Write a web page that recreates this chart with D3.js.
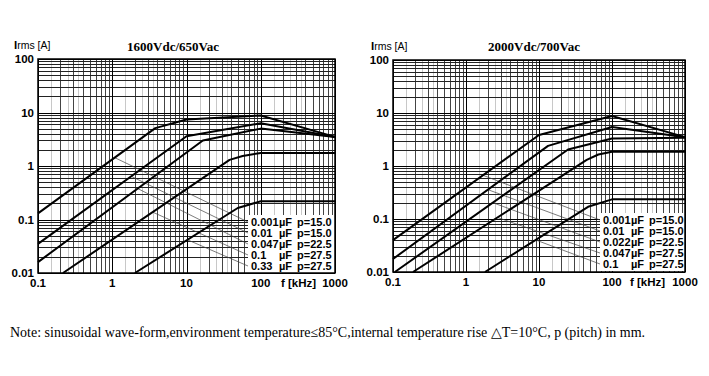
<!DOCTYPE html>
<html>
<head>
<meta charset="utf-8">
<script src="https://cdn.jsdelivr.net/npm/d3@7"></script>
<style>
  body { margin: 0; background: #fff; }
  svg { display: block; }
</style>
</head>
<body>
<div id="chart"></div>
<script>
// shared axis ticks
const freqTicks = [0.1, 1, 10, 100, 1000];
const freqTickLabels = ["0.1", "1", "10", "100", "1000"];
const currentTicks = [0.01, 0.1, 1, 10, 100];
const currentTickLabels = ["0.01", "0.1", "1", "10", "100"];

// left panel: 1600Vdc/650Vac  (points are [f kHz, Irms A])
const leftTitle = "1600Vdc/650Vac";
const leftCaps = ["0.001", "0.01", "0.047", "0.1", "0.33"];
const leftPitch = ["15.0", "15.0", "22.5", "27.5", "27.5"];
const leftCurve1 = [[0.1, 0.13], [3.8, 5.1], [10, 7.4], [100, 8.8], [1000, 3.5]];
const leftCurve2 = [[0.1, 0.035], [10, 3.6], [100, 6.3], [1000, 3.5]];
const leftCurve3 = [[0.1, 0.016], [16.6, 3.0], [100, 5.0], [1000, 3.5]];
const leftCurve4 = [[0.217, 0.01], [38, 1.3], [57, 1.54], [100, 1.75], [1000, 1.75]];
const leftCurve5 = [[2.02, 0.01], [49, 0.164], [100, 0.22], [1000, 0.22]];
const leftLeaderFrom = [1.08, 1.8, 2.2, 3.5, 10.3];

// right panel: 2000Vdc/700Vac
const rightTitle = "2000Vdc/700Vac";
const rightCaps = ["0.001", "0.01", "0.022", "0.047", "0.1"];
const rightPitch = ["15.0", "15.0", "22.5", "27.5", "27.5"];
const rightCurve1 = [[0.1, 0.04], [10, 3.85], [100, 8.8], [1000, 3.5]];
const rightCurve2 = [[0.1, 0.0176], [13.3, 2.4], [100, 5.45], [1000, 3.5]];
const rightCurve3 = [[0.106, 0.01], [25, 2.05], [100, 3.3], [1000, 3.4]];
const rightCurve4 = [[0.188, 0.01], [45, 1.3], [65, 1.65], [100, 1.85], [1000, 1.85]];
const rightCurve5 = [[1.82, 0.01], [47, 0.17], [100, 0.235], [1000, 0.235]];
const rightLeaderFrom = [1.71, 2.0, 2.33, 2.7, 9.0];

const note = "Note: sinusoidal wave-form,environment temperature\u226485\u00b0C,internal temperature rise \u25b3T=10\u00b0C, p (pitch) in mm.";

const width = 709, height = 376;
const sans = "'Liberation Sans', Arial, sans-serif";
const serif = "'Liberation Serif', 'Times New Roman', serif";

const svg = d3.select('#chart').append('svg')
    .attr('width', width)
    .attr('height', height);

// value on a polyline in log-log space
function logInterp(curve, f) {
    for (let i = 1; i < curve.length; i++) {
        const a = curve[i - 1], b = curve[i];
        if (f >= a[0] && f <= b[0]) {
            const t = (Math.log10(f) - Math.log10(a[0])) / (Math.log10(b[0]) - Math.log10(a[0]));
            return Math.pow(10, Math.log10(a[1]) + t * (Math.log10(b[1]) - Math.log10(a[1])));
        }
    }
    return curve[curve.length - 1][1];
}

function drawPanel(p) {
    const x = d3.scaleLog().domain([0.1, 1000]).range([p.x0, p.x1]);
    const y = d3.scaleLog().domain([0.01, 100]).range([p.y1, p.y0]);
    const g = svg.append('g');
    const px = v => Math.round(v) + 0.5;

    // grid values per decade
    const minor = [], half = [];
    for (let e = -2; e < 3; e++) {
        for (let n = 2; n <= 9; n++) minor.push(n * Math.pow(10, e));
        [1.5, 2.5, 3.5].forEach(n => half.push(n * Math.pow(10, e)));
    }
    const xMinor = minor.filter(v => v > 0.1 && v < 1000);
    const xHalf = half.filter(v => v > 0.1 && v < 1000);
    const yMinor = minor.filter(v => v > 0.01 && v < 100);

    const grid = g.append('g').attr('shape-rendering', 'crispEdges');
    grid.selectAll('line.vh').data(xHalf).enter().append('line')
        .attr('x1', d => px(x(d))).attr('x2', d => px(x(d)))
        .attr('y1', p.y0).attr('y2', p.y1)
        .attr('stroke', '#c8c8c8');
    grid.selectAll('line.vm').data(xMinor).enter().append('line')
        .attr('x1', d => px(x(d))).attr('x2', d => px(x(d)))
        .attr('y1', p.y0).attr('y2', p.y1)
        .attr('stroke', '#444');
    grid.selectAll('line.hm').data(yMinor).enter().append('line')
        .attr('y1', d => px(y(d))).attr('y2', d => px(y(d)))
        .attr('x1', p.x0).attr('x2', p.x1)
        .attr('stroke', '#222');
    grid.selectAll('line.vM').data(freqTicks).enter().append('line')
        .attr('x1', d => px(x(d))).attr('x2', d => px(x(d)))
        .attr('y1', p.y0).attr('y2', p.y1)
        .attr('stroke', '#000').attr('stroke-width', 1.5);
    grid.selectAll('line.hM').data(currentTicks).enter().append('line')
        .attr('y1', d => px(y(d))).attr('y2', d => px(y(d)))
        .attr('x1', p.x0).attr('x2', p.x1)
        .attr('stroke', '#000').attr('stroke-width', 1.5);

    // white box behind legend labels
    const rowY = i => p.labelTop + i * p.labelStep;
    g.append('rect')
        .attr('x', p.labelX - 3)
        .attr('y', rowY(0) - 7)
        .attr('width', p.x1 - p.labelX + 3)
        .attr('height', p.labelStep * 4 + 14)
        .attr('fill', '#fff');

    // leader lines from each curve to its label
    g.selectAll('line.leader').data(p.curves).enter().append('line')
        .attr('x1', (d, i) => x(p.leaderFrom[i]))
        .attr('y1', (d, i) => y(logInterp(d, p.leaderFrom[i])))
        .attr('x2', p.labelX - 3)
        .attr('y2', (d, i) => rowY(i))
        .attr('stroke', '#444')
        .attr('stroke-width', 0.7);

    // curves
    const line = d3.line().x(d => x(d[0])).y(d => y(d[1]));
    g.selectAll('path.curve').data(p.curves).enter().append('path')
        .attr('d', line)
        .attr('fill', 'none')
        .attr('stroke', '#000')
        .attr('stroke-width', 2)
        .attr('stroke-linejoin', 'round');

    // frame
    g.append('rect')
        .attr('x', p.x0).attr('y', p.y0)
        .attr('width', p.x1 - p.x0).attr('height', p.y1 - p.y0)
        .attr('fill', 'none').attr('stroke', '#000').attr('stroke-width', 1.5);

    // legend labels
    const lab = g.append('g')
        .style('font-family', sans).style('font-weight', 'bold').style('font-size', '11px');
    p.caps.forEach((c, i) => {
        lab.append('text').attr('x', p.labelX).attr('y', rowY(i) + 4).text(c);
        lab.append('text').attr('x', p.labelX + 28).attr('y', rowY(i) + 4).text('\u00b5F');
        lab.append('text').attr('x', p.labelX + 46).attr('y', rowY(i) + 4).text('p=' + p.pitch[i]);
    });

    // y tick labels
    g.selectAll('text.yt').data(currentTicks).enter().append('text')
        .attr('x', p.x0 - 4)
        .attr('y', d => y(d) + 4)
        .attr('text-anchor', 'end')
        .style('font-family', sans).style('font-weight', 'bold').style('font-size', '11.5px')
        .text((d, i) => currentTickLabels[i]);

    // x tick labels
    g.selectAll('text.xt').data(freqTicks).enter().append('text')
        .attr('x', d => x(d))
        .attr('y', p.y1 + 14)
        .attr('text-anchor', 'middle')
        .style('font-family', sans).style('font-weight', 'bold').style('font-size', '11.5px')
        .text((d, i) => freqTickLabels[i]);

    g.append('text')
        .attr('x', p.fLabelX).attr('y', p.y1 + 14)
        .style('font-family', sans).style('font-weight', 'bold').style('font-size', '11.5px')
        .text('f [kHz]');

    // y axis name
    const irms = g.append('text')
        .attr('x', p.irmsX).attr('y', p.y0 - 10)
        .style('font-family', sans).style('font-size', '10.5px');
    irms.append('tspan').style('font-weight', 'bold').style('font-size', '11.5px').text('I');
    irms.append('tspan').text('rms [A]');

    // title
    g.append('text')
        .attr('x', p.titleX).attr('y', 51)
        .attr('text-anchor', 'middle')
        .style('font-family', serif).style('font-weight', 'bold').style('font-size', '13px')
        .text(p.title);
}

drawPanel({
    x0: 38, x1: 335, y0: 59, y1: 273,
    title: leftTitle, titleX: 173, irmsX: 14, fLabelX: 281,
    caps: leftCaps, pitch: leftPitch,
    curves: [leftCurve1, leftCurve2, leftCurve3, leftCurve4, leftCurve5],
    leaderFrom: leftLeaderFrom,
    labelX: 251, labelTop: 222, labelStep: 11
});

drawPanel({
    x0: 393, x1: 685, y0: 60, y1: 272,
    title: rightTitle, titleX: 534, irmsX: 371, fLabelX: 630,
    caps: rightCaps, pitch: rightPitch,
    curves: [rightCurve1, rightCurve2, rightCurve3, rightCurve4, rightCurve5],
    leaderFrom: rightLeaderFrom,
    labelX: 603, labelTop: 220, labelStep: 11
});

// footnote, sized to span the same width as in the source
const noteText = svg.append('text')
    .attr('x', 10).attr('y', 337)
    .style('font-family', serif).style('font-size', '13px')
    .text(note);
const w = noteText.node().getComputedTextLength();
noteText.style('font-size', (13 * 635 / w).toFixed(2) + 'px');
</script>
</body>
</html>
